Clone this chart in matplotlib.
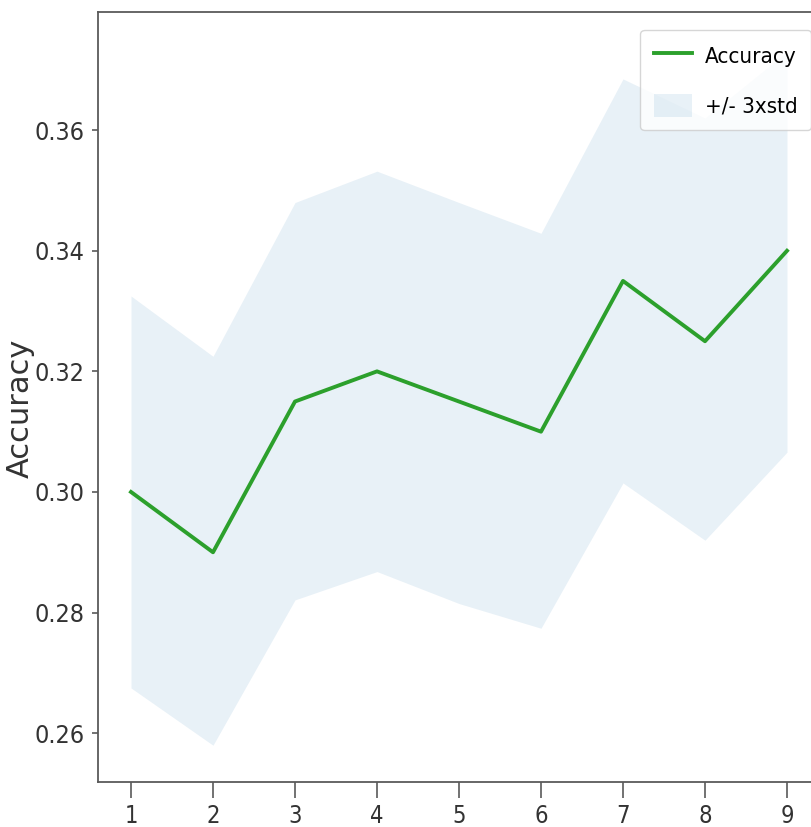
import matplotlib
matplotlib.use("Agg")
import matplotlib.pyplot as plt
import numpy as np

# accuracy per run with a +/- 3 std band
runs = [1, 2, 3, 4, 5, 6, 7, 8, 9]
accuracy = [0.300, 0.290, 0.315, 0.320, 0.315, 0.310, 0.335, 0.325, 0.340]
upper = [0.3325, 0.3225, 0.348, 0.3532, 0.348, 0.3429, 0.3685, 0.362, 0.373]
lower = [0.2675, 0.258, 0.2821, 0.2868, 0.2815, 0.2774, 0.3015, 0.292, 0.3066]

W, H = 812, 827
fig = plt.figure(figsize=(W / 100, H / 100), dpi=100)
# axes run a little past the right edge of the figure
ax = fig.add_axes([98.2 / W, 45 / H, 721.6 / W, 770 / H])

ax.plot(runs, accuracy, color='tab:green', lw=2.8, label='Accuracy')
ax.fill_between(runs, lower, upper, color='tab:blue', alpha=0.1, lw=0, label='+/- 3xstd')

ax.set_xlim(0.6, 9.4)
ax.set_ylim(0.2519, 0.3796)
ax.set_xticks(runs)
ax.set_yticks([0.26, 0.28, 0.30, 0.32, 0.34, 0.36])
ax.set_yticklabels(['0.26', '0.28', '0.30', '0.32', '0.34', '0.36'])

for s in ax.spines.values():
    s.set_color('#5a5a5a')
    s.set_linewidth(1.3)
ax.tick_params(axis='y', length=4, width=1.2, color='#5a5a5a', pad=6, labelsize=18, labelcolor='#333333')
ax.tick_params(axis='x', length=11.5, width=1.2, color='#5a5a5a', pad=4, labelsize=17, labelcolor='#333333')
for lab in ax.get_xticklabels() + ax.get_yticklabels():
    lab.set_fontstretch('condensed')

ax.set_ylabel('Accuracy', fontsize=22, color='#333333')
ax.yaxis.set_label_coords(-0.088, 0.485)

ax.legend(loc='upper right', bbox_to_anchor=(811 / W, 1 - 30 / H), bbox_transform=fig.transFigure,
          handlelength=1.7, handleheight=1.25, handletextpad=0.6, labelspacing=1.2,
          borderpad=0.6, borderaxespad=0, prop={'size': 16, 'stretch': 'condensed'})

fig.savefig('out.png', dpi=100)
